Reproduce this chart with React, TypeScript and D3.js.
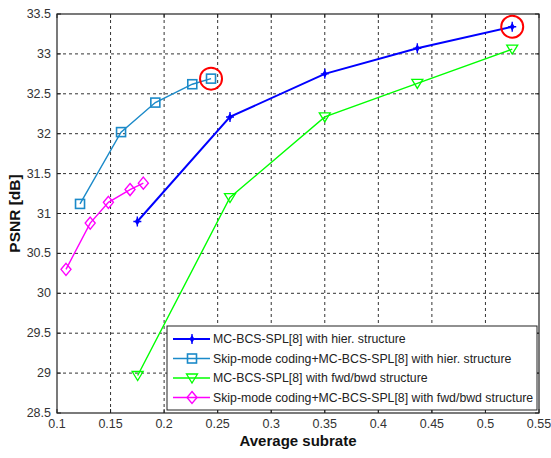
import React from "react";
import * as d3 from "d3";

const W = 551, H = 458;
const xTicks = [0.1, 0.15, 0.2, 0.25, 0.3, 0.35, 0.4, 0.45, 0.5, 0.55];
const yTicks = [28.5, 29, 29.5, 30, 30.5, 31, 31.5, 32, 32.5, 33, 33.5];

const blueX = [0.175, 0.2615, 0.35, 0.4364, 0.525];
const blueY = [30.9, 32.21, 32.75, 33.07, 33.34];
const cyanX = [0.1215, 0.1598, 0.1918, 0.2263, 0.2438];
const cyanY = [31.12, 32.02, 32.39, 32.62, 32.69];
const greenX = [0.1753, 0.2615, 0.35, 0.4364, 0.525];
const greenY = [28.97, 31.2, 32.21, 32.63, 33.06];
const magentaX = [0.1084, 0.131, 0.148, 0.1682, 0.1806];
const magentaY = [30.3, 30.88, 31.14, 31.3, 31.38];

const seriesNames = [
  "MC-BCS-SPL[8] with hier. structure",
  "Skip-mode coding+MC-BCS-SPL[8] with hier. structure",
  "MC-BCS-SPL[8] with fwd/bwd structure",
  "Skip-mode coding+MC-BCS-SPL[8] with fwd/bwd structure",
];

const series = [
  { name: seriesNames[0], xs: blueX, ys: blueY, color: "#0000ff", marker: "star", width: 2 },
  { name: seriesNames[1], xs: cyanX, ys: cyanY, color: "#1b8ac9", marker: "square", width: 1.4 },
  { name: seriesNames[2], xs: greenX, ys: greenY, color: "#00ff00", marker: "tri", width: 1.4 },
  { name: seriesNames[3], xs: magentaX, ys: magentaY, color: "#ff00ff", marker: "diamond", width: 1.4 },
];

const L = 57, R = 539, T = 14, B = 413;
const x = d3.scaleLinear().domain([0.1, 0.55]).range([L, R]);
const y = d3.scaleLinear().domain([28.5, 33.5]).range([B, T]);

function Marker({ type, cx, cy, color }: { type: string; cx: number; cy: number; color: string }) {
  if (type === "star") {
    return (
      <g>
        <path d={`M${cx},${cy - 4}L${cx + 2.5},${cy}L${cx},${cy + 4}L${cx - 2.5},${cy}Z`} fill={color} />
        <path d={`M${cx - 4},${cy}H${cx + 4}M${cx},${cy - 5}V${cy + 5}`} stroke={color} strokeWidth={1.4} />
      </g>
    );
  }
  if (type === "square") {
    return <rect x={cx - 4.5} y={cy - 4.5} width={9} height={9} fill="none" stroke={color} strokeWidth={1.6} />;
  }
  if (type === "tri") {
    return <path d={`M${cx - 5.5},${cy - 4}L${cx + 5.5},${cy - 4}L${cx},${cy + 5}Z`} fill="none" stroke={color} strokeWidth={1.3} />;
  }
  return <path d={`M${cx},${cy - 6}L${cx + 5},${cy}L${cx},${cy + 6}L${cx - 5},${cy}Z`} fill="none" stroke={color} strokeWidth={1.4} />;
}

export default function App() {
  const line = d3.line<[number, number]>().x((d) => x(d[0])).y((d) => y(d[1]));
  const font = "'Liberation Sans', Arial, sans-serif";
  const legX = 167, legY = 326, legW = 370, legH = 84;
  return (
    <svg width={W} height={H} style={{ position: "absolute", left: 0, top: 0, background: "#fff" }} fontFamily={font}>
      <rect x={0} y={0} width={W} height={H} fill="#fff" />
      {xTicks.slice(1, -1).map((t) => (
        <line key={"gx" + t} x1={x(t)} x2={x(t)} y1={T} y2={B} stroke="#333" strokeWidth={1} strokeDasharray="3,3" />
      ))}
      {yTicks.slice(1, -1).map((t) => (
        <line key={"gy" + t} x1={L} x2={R} y1={y(t)} y2={y(t)} stroke="#333" strokeWidth={1} strokeDasharray="3,3" />
      ))}
      {xTicks.map((t) => (
        <g key={"tx" + t}>
          <line x1={x(t)} x2={x(t)} y1={B} y2={B - 4} stroke="#222" />
          <line x1={x(t)} x2={x(t)} y1={T} y2={T + 4} stroke="#222" />
          <text x={x(t)} y={B + 15} textAnchor="middle" fontSize={12.5} fill="#333">{t}</text>
        </g>
      ))}
      {yTicks.map((t) => (
        <g key={"ty" + t}>
          <line x1={L} x2={L + 4} y1={y(t)} y2={y(t)} stroke="#222" />
          <line x1={R} x2={R - 4} y1={y(t)} y2={y(t)} stroke="#222" />
          <text x={L - 6} y={y(t) + 4} textAnchor="end" fontSize={12.5} fill="#333">{t}</text>
        </g>
      ))}
      <rect x={L} y={T} width={R - L} height={B - T} fill="none" stroke="#222" strokeWidth={1.2} />
      {series.map((s) => {
        const pts = s.xs.map((v, i) => [v, s.ys[i]] as [number, number]);
        return (
          <g key={s.name}>
            <path d={line(pts) || ""} fill="none" stroke={s.color} strokeWidth={s.width} />
            {pts.map((p, i) => (
              <Marker key={i} type={s.marker} cx={x(p[0])} cy={y(p[1])} color={s.color} />
            ))}
          </g>
        );
      })}
      <ellipse cx={x(cyanX[4])} cy={y(cyanY[4])} rx={11} ry={11} fill="none" stroke="#ff0000" strokeWidth={2} />
      <ellipse cx={x(blueX[4])} cy={y(blueY[4])} rx={11} ry={11} fill="none" stroke="#ff0000" strokeWidth={2} />
      <rect x={legX} y={legY} width={legW} height={legH} fill="#fff" stroke="#222" strokeWidth={1} />
      {series.map((s, i) => {
        const cy = legY + 13 + i * 19.5;
        return (
          <g key={"lg" + i}>
            <line x1={173} x2={210} y1={cy} y2={cy} stroke={s.color} strokeWidth={s.width} />
            <Marker type={s.marker} cx={192} cy={cy} color={s.color} />
            <text x={213} y={cy + 4} fontSize={12.3} fill="#222">{s.name}</text>
          </g>
        );
      })}
      <text x={(L + R) / 2} y={446} textAnchor="middle" fontSize={15} fontWeight="bold" fill="#111">Average subrate</text>
      <text transform={`translate(20,${(T + B) / 2}) rotate(-90)`} textAnchor="middle" fontSize={15.5} fontWeight="bold" fill="#111">PSNR [dB]</text>
    </svg>
  );
}
